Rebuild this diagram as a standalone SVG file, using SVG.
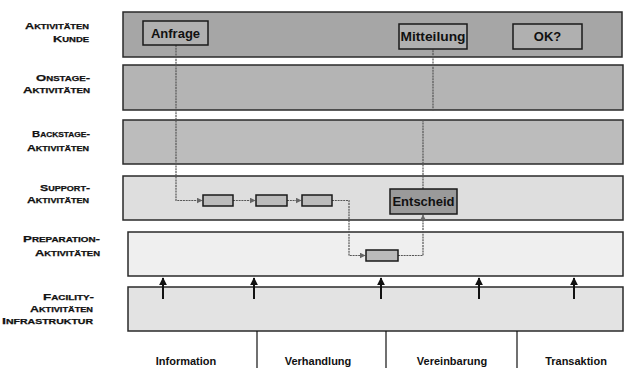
<svg xmlns="http://www.w3.org/2000/svg" width="627" height="368" viewBox="0 0 627 368">
<defs>
<style>
.lane{stroke:#2a2a2a;stroke-width:1.5}
.lbl{font-family:"Liberation Sans",Arial,sans-serif;font-weight:bold;font-variant:small-caps;font-size:9.5px;fill:#111;stroke:#111;stroke-width:0.25;text-anchor:end}
.node{stroke:#1a1a1a;stroke-width:1.5}
.ntx{font-family:"Liberation Sans",Arial,sans-serif;font-weight:bold;font-size:13px;fill:#111;text-anchor:middle}
.ph{font-family:"Liberation Sans",Arial,sans-serif;font-weight:bold;font-size:11px;fill:#111;text-anchor:middle}
.con{fill:none;stroke:#555;stroke-width:1.2;stroke-dasharray:2 0.8}
.blk{stroke:#111;stroke-width:2;fill:none}
</style>
<marker id="ga" viewBox="0 0 10 10" refX="9" refY="5" markerWidth="6" markerHeight="6" orient="auto" markerUnits="userSpaceOnUse">
<path d="M0,0 L10,5 L0,10 z" fill="#666"/>
</marker>
<marker id="ba" viewBox="0 0 10 10" refX="9" refY="5" markerWidth="8" markerHeight="8" orient="auto" markerUnits="userSpaceOnUse">
<path d="M0,0 L10,5 L0,10 z" fill="#111"/>
</marker>
</defs>
<rect width="627" height="368" fill="#ffffff"/>

<g id="lanes">
<rect class="lane" x="123" y="12" width="499" height="45" fill="#a6a6a6"/>
<rect class="lane" x="123" y="65" width="500" height="45" fill="#b4b4b4"/>
<rect class="lane" x="123" y="120" width="500" height="44" fill="#bcbcbc"/>
<rect class="lane" x="123" y="176" width="500" height="44" fill="#dedede"/>
<rect class="lane" x="128" y="232" width="495" height="44" fill="#efefef"/>
<rect class="lane" x="128" y="287" width="495" height="44" fill="#e3e3e3"/>
</g>

<g id="lane-labels">
<text class="lbl" x="89" y="29" textLength="64" lengthAdjust="spacingAndGlyphs">Aktivitäten</text>
<text class="lbl" x="89" y="42" textLength="36" lengthAdjust="spacingAndGlyphs">Kunde</text>
<text class="lbl" x="90" y="81" textLength="54" lengthAdjust="spacingAndGlyphs">Onstage-</text>
<text class="lbl" x="90" y="93" textLength="67" lengthAdjust="spacingAndGlyphs">Aktivitäten</text>
<text class="lbl" x="90" y="137" textLength="58" lengthAdjust="spacingAndGlyphs">Backstage-</text>
<text class="lbl" x="89" y="151" textLength="62" lengthAdjust="spacingAndGlyphs">Aktivitäten</text>
<text class="lbl" x="90" y="191" textLength="50" lengthAdjust="spacingAndGlyphs">Support-</text>
<text class="lbl" x="89" y="203" textLength="62" lengthAdjust="spacingAndGlyphs">Aktivitäten</text>
<text class="lbl" x="100" y="242" textLength="77" lengthAdjust="spacingAndGlyphs">Preparation-</text>
<text class="lbl" x="100" y="256" textLength="65" lengthAdjust="spacingAndGlyphs">Aktivitäten</text>
<text class="lbl" x="94" y="300" textLength="51" lengthAdjust="spacingAndGlyphs">Facility-</text>
<text class="lbl" x="93" y="312" textLength="63" lengthAdjust="spacingAndGlyphs">Aktivitäten</text>
<text class="lbl" x="93" y="324" textLength="91" lengthAdjust="spacingAndGlyphs">Infrastruktur</text>
</g>

<g id="connectors">
<path class="con" d="M176,45 V200.5 H202" marker-end="url(#ga)"/>
<path class="con" d="M233,200.5 H255" marker-end="url(#ga)"/>
<path class="con" d="M287,200.5 H301" marker-end="url(#ga)"/>
<path class="con" d="M332,200.5 H349 V255.5 H365" marker-end="url(#ga)"/>
<path class="con" d="M398,255.5 H423 V215" marker-end="url(#ga)"/>
<path class="con" d="M423,189 V120 M433,111 V49"/>
<path class="blk" d="M163,299 V278" marker-end="url(#ba)"/>
<path class="blk" d="M254,299 V278" marker-end="url(#ba)"/>
<path class="blk" d="M381,299 V278" marker-end="url(#ba)"/>
<path class="blk" d="M479,299 V278" marker-end="url(#ba)"/>
<path class="blk" d="M574,299 V278" marker-end="url(#ba)"/>
</g>

<g id="anfrage">
<rect class="node" x="143" y="21" width="65" height="24" fill="#b0b0b0"/>
<text class="ntx" x="175.5" y="38">Anfrage</text>
</g>
<g id="mitteilung">
<rect class="node" x="399" y="24" width="68" height="25" fill="#b0b0b0"/>
<text class="ntx" x="433" y="41" textLength="65" lengthAdjust="spacingAndGlyphs">Mitteilung</text>
</g>
<g id="ok">
<rect class="node" x="513" y="24" width="69" height="25" fill="#b0b0b0"/>
<text class="ntx" x="547.5" y="41">OK?</text>
</g>
<g id="entscheid">
<rect class="node" x="390" y="189" width="67" height="25" fill="#9a9a9a"/>
<text class="ntx" x="423.5" y="206">Entscheid</text>
</g>
<g id="support-1"><rect class="node" x="203" y="195" width="30" height="11" fill="#bbbbbb"/></g>
<g id="support-2"><rect class="node" x="256" y="195" width="31" height="11" fill="#bbbbbb"/></g>
<g id="support-3"><rect class="node" x="302" y="195" width="30" height="11" fill="#bbbbbb"/></g>
<g id="preparation-1"><rect class="node" x="366" y="250" width="32" height="11" fill="#bbbbbb"/></g>

<g id="phases">
<line x1="257" y1="331" x2="257" y2="368" stroke="#111" stroke-width="1.2"/>
<line x1="386" y1="331" x2="386" y2="368" stroke="#111" stroke-width="1.2"/>
<line x1="517" y1="331" x2="517" y2="368" stroke="#111" stroke-width="1.2"/>
<text class="ph" x="186" y="365">Information</text>
<text class="ph" x="318" y="365">Verhandlung</text>
<text class="ph" x="452" y="365">Vereinbarung</text>
<text class="ph" x="576" y="365">Transaktion</text>
</g>
</svg>
